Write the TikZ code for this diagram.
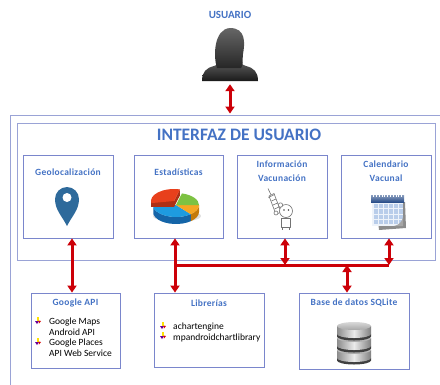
\documentclass[tikz,border=0pt]{standalone}
\usepackage{fontspec}
\setmainfont{Carlito}
\newfontfamily\headfont[LetterSpace=3]{Carlito}
\usetikzlibrary{arrows.meta,calc}

\definecolor{titleblue}{HTML}{4472C4}
\definecolor{boxline}{HTML}{7A86CC}
\definecolor{frameline}{HTML}{9AA3D6}
\definecolor{linkred}{HTML}{CC0008}
\definecolor{pinblue}{HTML}{2E6A9B}
\definecolor{pieblue}{HTML}{1E9BE0}
\definecolor{pieblued}{HTML}{1565A8}
\definecolor{pieorange}{HTML}{F5A623}
\definecolor{pieoranged}{HTML}{C47A0A}
\definecolor{piegreen}{HTML}{7DC242}
\definecolor{piegreend}{HTML}{4F8A22}
\definecolor{piered}{HTML}{E8401C}
\definecolor{calband}{HTML}{2B4F8A}
\definecolor{calpage}{HTML}{EEF3FA}
\definecolor{calcell}{HTML}{B9CDEA}

\begin{document}
\begin{tikzpicture}[x=1pt,y=-1pt,
  frame/.style={draw=frameline, line width=0.9pt, inner sep=0pt},
  box/.style={draw=boxline, line width=0.8pt, inner sep=0pt},
  head/.style={font=\headfont\bfseries\fontsize{9.5}{14}\selectfont, text=titleblue, align=center, inner sep=0pt},
  item/.style={font=\fontsize{9.5}{10.5}\selectfont, anchor=west, inner sep=0pt},
  link/.style={draw=linkred, line width=3pt, {Triangle[width=9pt,length=7pt]}-{Triangle[width=9pt,length=7pt]}},
  bus/.style={draw=linkred, line width=3pt},
  bul/.pic={
    \fill[yellow!85!orange] (-0.8,-4) rectangle (0.8,0);
    \fill[violet!80!blue] (-3,0) -- (1,0) -- (-1,3) -- cycle;
    \fill[red!85!black] (0.5,-0.5) -- (3,0) -- (1,2.5) -- cycle;
  }]
\useasboundingbox (0,0) rectangle (440,384);
\clip (0,0) rectangle (440,384);

% frames
\node[frame, minimum width=436pt, minimum height=270pt] (frame) at (228,250) {};
\node[frame, minimum width=418pt, minimum height=137pt] (ui) at (226,191.5) {};

% user silhouette
\node[font=\bfseries\fontsize{11}{13}\selectfont, text=titleblue] (usert) at (230,15) {USUARIO};
\node[minimum width=56pt, minimum height=54pt, inner sep=0pt] (user) at (230,55) {};
\shade[top color=black!65, bottom color=black!90]
  (202,81) .. controls (202,72) and (206,68) .. (214,66) -- (221,63) -- (239,63) -- (246,66)
  .. controls (254,68) and (258,72) .. (258,81) -- cycle;
\shade[top color=black!60, bottom color=black!85]
  (217,68) .. controls (213,56) and (214,29) .. (230,28) .. controls (246,28) and (245,43) .. (243,54)
  .. controls (242,60) and (244,65) .. (241,68) -- cycle;

% interface title
\node[font=\bfseries\fontsize{17.5}{20}\selectfont, text=titleblue] (uit) at (239,135) {INTERFAZ DE USUARIO};

% interface modules
\node[box, minimum width=90pt, minimum height=83pt] (geo) at (68,196.5) {};
\node[box, minimum width=89pt, minimum height=83pt] (est) at (178.5,196.5) {};
\node[box, minimum width=90pt, minimum height=83pt] (info) at (282,196.5) {};
\node[box, minimum width=90pt, minimum height=83pt] (cal) at (386,196.5) {};
\node[head] (geot) at (68,172) {Geolocalización};
\node[head] (estt) at (178.5,172) {Estadísticas};
\node[head] (infot) at (282,171) {Información\\Vacunación};
\node[head] (calt) at (386,171) {Calendario\\Vacunal};

% back-end modules
\node[box, minimum width=89pt, minimum height=75pt] (gapi) at (75.5,330.5) {};
\node[box, minimum width=110pt, minimum height=74pt] (lib) at (209,330) {};
\node[box, minimum width=110pt, minimum height=76pt] (db) at (354,331) {};
\node[head] (gapit) at (75.5,303) {Google API};
\node[head] (libt) at (209,303) {Librerías};
\node[head] (dbt) at (354,303) {Base de datos SQLite};

\pic at (38,321) {bul};
\node[item] (i1) at (49,322) {Google Maps};
\node[item] (i2) at (49,332.5) {Android API};
\pic at (38,342) {bul};
\node[item] (i3) at (49,343) {Google Places};
\node[item] (i4) at (49,353.5) {API Web Service};
\pic at (163,326) {bul};
\node[item] (i5) at (173,327) {achartengine};
\pic at (163,336) {bul};
\node[item] (i6) at (173,337.5) {mpandroidchartlibrary};

% map pin
\fill[pinblue] (67,226) .. controls (62,216) and (55,210) .. (55,199)
  arc[start angle=180, end angle=360, radius=12]
  .. controls (79,210) and (72,216) .. (67,226) -- cycle;
\fill[white] (67,197.5) circle[radius=4.5];

% pie chart
\begin{scope}[shift={(176,205)}, yscale=-1]
  \fill[black!12] (1,-11) ellipse[x radius=24, y radius=6];
  \fill[pieblued] (190:23 and 12) arc[start angle=190, end angle=310, x radius=23, y radius=12]
    -- ++(0,-7) arc[start angle=310, end angle=190, x radius=23, y radius=12] -- cycle;
  \fill[pieoranged] (310:23 and 12) arc[start angle=310, end angle=360, x radius=23, y radius=12]
    -- ++(0,-7) arc[start angle=360, end angle=310, x radius=23, y radius=12] -- cycle;
  \fill[pieblue] (0,0) -- (190:23 and 12) arc[start angle=190, end angle=310, x radius=23, y radius=12] -- cycle;
  \fill[pieorange] (0,0) -- (310:23 and 12) arc[start angle=310, end angle=360, x radius=23, y radius=12] -- cycle;
  \fill[piegreen] (0,0) -- (0:23 and 12) arc[start angle=0, end angle=75, x radius=23, y radius=12] -- cycle;
  \begin{scope}[shift={(-2,4)}]
    \fill[piered!75!black] (180:23 and 12) -- ++(0,-6) -- (0,-6) -- (0,0) -- cycle;
    \fill[piered!75!black] (75:23 and 12) -- (0,0) -- (0,-6) -- ++(75:23 and 12) -- cycle;
    \fill[piered] (0,0) -- (75:23 and 12) arc[start angle=75, end angle=190, x radius=23, y radius=12] -- cycle;
  \end{scope}
\end{scope}

% vaccination cartoon
\begin{scope}[draw=black!55, line width=0.6pt, line join=round]
  \filldraw[fill=white] (269,196) -- (274,193.5) -- (281,212) -- (276,214.5) -- cycle;
  \draw (271,194.8) -- (268,188.5);
  \draw (268.5,197.5) -- (274.5,194.5);
  \draw (271.5,201) -- (276,199) (273,205) -- (277.5,203) (274.5,209) -- (279,207);
  \filldraw[fill=white] (281,218) rectangle (290,227);
  \draw (282,227) -- (282,230) (289,227) -- (289,230);
  \filldraw[fill=white] (286,211) circle[radius=6.5];
  \fill[black!70] (284,210) circle[radius=0.9] (288.5,210) circle[radius=0.9];
  \filldraw[fill=white] (280.5,205) circle[radius=2.2];
  \filldraw[fill=white] (276,213) circle[radius=2];
\end{scope}

% calendar
\fill[black!45] (376,203) -- (405,202) -- (406,228) -- (379,230) -- cycle;
\fill[calpage] (372,201) rectangle (403,226);
\foreach \c in {0,...,5}
  \foreach \r in {0,...,3}
    \fill[calcell] (374+\c*5,204+\r*5.3) rectangle ++(4,4.2);
\shade[top color=calband!55, bottom color=calband] (371,195) rectangle (404,202);
\foreach \k in {0,...,10}
  \draw[white, line width=0.7pt] (373.5+\k*2.8,193) -- (373.5+\k*2.8,197);
\fill[black!35] (394,226) .. controls (399,225) and (402,222) .. (403,217) -- (403,226) -- cycle;

% database
\begin{scope}[shift={(354,0)}]
  \foreach \t in {350,338,326} {
    \fill[black!75] (-17,\t+8) -- (-17,\t+10.5) arc[start angle=180, end angle=0, x radius=17, y radius=4]
      -- (17,\t+8) -- cycle;
    \shade[left color=black!45, right color=black!50, middle color=black!8]
      (-17,\t) -- (-17,\t+8) arc[start angle=180, end angle=0, x radius=17, y radius=4] -- (17,\t) -- cycle;
    \shade[top color=black!15, bottom color=black!35] (0,\t) ellipse[x radius=17, y radius=4];
  }
\end{scope}

% connectors
\coordinate (bus) at (0,265);
\coordinate (geox) at ([xshift=4pt]geo.south);
\coordinate (estx) at ([xshift=-3.5pt]est.south);
\coordinate (infox) at ([xshift=3pt]info.south);
\coordinate (calx) at ([xshift=3pt]cal.south);
\coordinate (dbx) at ([xshift=-7pt]db.north);
\draw[link] ([yshift=-2pt]user.south) -- ([yshift=1pt]user.south |- frame.north);
\draw[link] (geox) -- (geox |- gapi.north);
\draw[link] (estx) -- (estx |- lib.north);
\draw[bus] (estx |- bus) -- (calx |- bus);
\draw[link] (infox) -- (infox |- bus);
\draw[link] (calx) -- (calx |- bus);
\draw[link] (dbx |- bus) -- (dbx);
\end{tikzpicture}
\end{document}
